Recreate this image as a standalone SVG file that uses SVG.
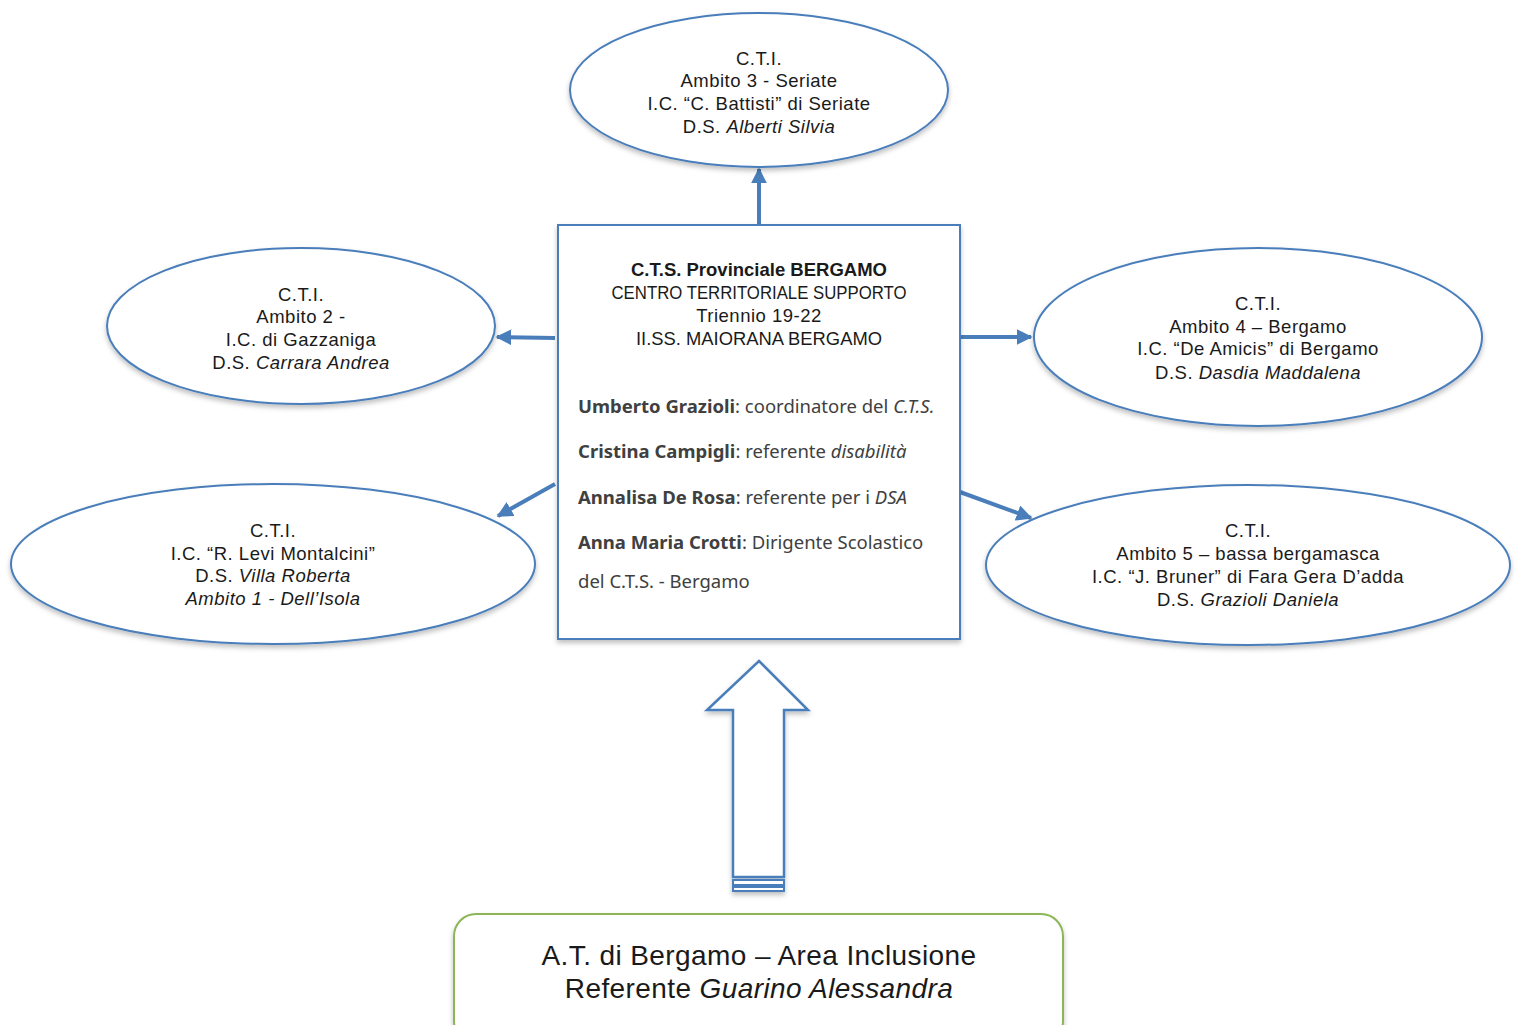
<svg xmlns="http://www.w3.org/2000/svg" width="1517" height="1025" viewBox="0 0 1517 1025">
<style>
.ell{fill:#ffffff;stroke:#4a7ebb;stroke-width:2}
.t{font-family:"Liberation Sans",Arial,sans-serif;font-size:18.5px;letter-spacing:0.5px;fill:#1a1a1a;text-anchor:middle}
.c{font-family:"Noto Sans","Open Sans",sans-serif;font-size:18.5px;fill:#404040}
.b{font-weight:bold}
.i{font-style:italic}
.conn{stroke:#4a7ebb;stroke-width:4;fill:none}
.big{font-size:28px;letter-spacing:0.4px}
</style>
<defs>
<filter id="sh" x="-10%" y="-10%" width="120%" height="130%">
<feDropShadow dx="0" dy="3" stdDeviation="2.5" flood-color="#000" flood-opacity="0.25"/>
</filter>
<marker id="ah" viewBox="0 0 10 10" refX="9" refY="5" markerWidth="4" markerHeight="4" orient="auto" markerUnits="strokeWidth">
<path d="M0,0 L10,5 L0,10 z" fill="#4a7ebb"/>
</marker>
</defs>

<g id="connectors">
<line class="conn" x1="759" y1="224" x2="759" y2="169" marker-end="url(#ah)"/>
<line class="conn" x1="555" y1="338" x2="497" y2="337" marker-end="url(#ah)"/>
<line class="conn" x1="961" y1="337" x2="1031" y2="337" marker-end="url(#ah)"/>
<line class="conn" x1="555" y1="484" x2="498" y2="516" marker-end="url(#ah)"/>
<line class="conn" x1="960" y1="492" x2="1031" y2="518" marker-end="url(#ah)"/>
<g id="bigarrow" filter="url(#sh)">
<path d="M759,661 L808,710 L784,710 L784,877 L733,877 L733,710 L707,710 Z" fill="#ffffff" stroke="#4a7ebb" stroke-width="2.5"/>
<rect x="733" y="880" width="51" height="5" fill="#ffffff" stroke="#4a7ebb" stroke-width="2"/>
<rect x="733" y="887" width="51" height="4" fill="#ffffff" stroke="#4a7ebb" stroke-width="2"/>
</g>
</g>

<g id="cti3">
<ellipse class="ell" cx="759" cy="90" rx="189" ry="77" filter="url(#sh)"/>
<text class="t" x="759" y="65">C.T.I.</text>
<text class="t" x="759" y="87">Ambito 3 - Seriate</text>
<text class="t" x="759" y="110">I.C. “C. Battisti” di Seriate</text>
<text class="t" x="759" y="133">D.S. <tspan class="i">Alberti Silvia</tspan></text>
</g>

<g id="cti2">
<ellipse class="ell" cx="301" cy="326" rx="194" ry="78" filter="url(#sh)"/>
<text class="t" x="301" y="301">C.T.I.</text>
<text class="t" x="301" y="323">Ambito 2 -</text>
<text class="t" x="301" y="346">I.C. di Gazzaniga</text>
<text class="t" x="301" y="369">D.S. <tspan class="i">Carrara Andrea</tspan></text>
</g>

<g id="cti4">
<ellipse class="ell" cx="1258" cy="337" rx="224" ry="89" filter="url(#sh)"/>
<text class="t" x="1258" y="310">C.T.I.</text>
<text class="t" x="1258" y="333">Ambito 4 – Bergamo</text>
<text class="t" x="1258" y="355">I.C. “De Amicis” di Bergamo</text>
<text class="t" x="1258" y="379">D.S. <tspan class="i">Dasdia Maddalena</tspan></text>
</g>

<g id="cti1">
<ellipse class="ell" cx="273" cy="564" rx="262" ry="80" filter="url(#sh)"/>
<text class="t" x="273" y="537">C.T.I.</text>
<text class="t" x="273" y="560">I.C. “R. Levi Montalcini”</text>
<text class="t" x="273" y="582">D.S. <tspan class="i">Villa Roberta</tspan></text>
<text class="t i" x="273" y="605">Ambito 1 - Dell’Isola</text>
</g>

<g id="cti5">
<ellipse class="ell" cx="1248" cy="565" rx="262" ry="80" filter="url(#sh)"/>
<text class="t" x="1248" y="537">C.T.I.</text>
<text class="t" x="1248" y="560">Ambito 5 – bassa bergamasca</text>
<text class="t" x="1248" y="583">I.C. “J. Bruner” di Fara Gera D’adda</text>
<text class="t" x="1248" y="606">D.S. <tspan class="i">Grazioli Daniela</tspan></text>
</g>

<g id="cts">
<rect x="558" y="225" width="402" height="414" fill="#ffffff" stroke="#4a7ebb" stroke-width="2" filter="url(#sh)"/>
<text class="t b" x="759" y="276" style="letter-spacing:0">C.T.S. Provinciale BERGAMO</text>
<text class="t" x="759" y="299" style="letter-spacing:0" textLength="295" lengthAdjust="spacingAndGlyphs">CENTRO TERRITORIALE SUPPORTO</text>
<text class="t" x="759" y="322">Triennio 19-22</text>
<text class="t" x="759" y="345" style="letter-spacing:0" textLength="246" lengthAdjust="spacingAndGlyphs">II.SS. MAIORANA BERGAMO</text>
<text class="c" x="578" y="413"><tspan class="b">Umberto Grazioli</tspan>: coordinatore del <tspan class="i">C.T.S.</tspan></text>
<text class="c" x="578" y="458"><tspan class="b">Cristina Campigli</tspan>: referente <tspan class="i">disabilità</tspan></text>
<text class="c" x="578" y="504"><tspan class="b">Annalisa De Rosa</tspan>: referente per i <tspan class="i">DSA</tspan></text>
<text class="c" x="578" y="549"><tspan class="b">Anna Maria Crotti</tspan>: Dirigente Scolastico</text>
<text class="c" x="578" y="588">del C.T.S. - Bergamo</text>
</g>

<g id="at">
<rect x="454" y="914" width="609" height="130" rx="22" ry="22" fill="#ffffff" stroke="#8cb657" stroke-width="2" filter="url(#sh)"/>
<text class="t big" x="759" y="965">A.T. di Bergamo – Area Inclusione</text>
<text class="t big" x="759" y="998">Referente <tspan class="i">Guarino Alessandra</tspan></text>
</g>
</svg>
